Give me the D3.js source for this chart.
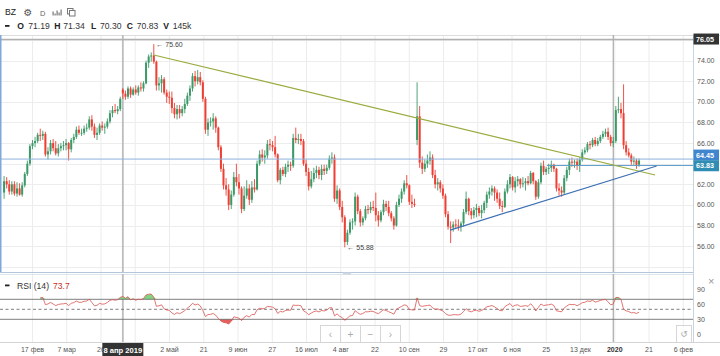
<!DOCTYPE html>
<html><head><meta charset="utf-8">
<script src="https://cdn.jsdelivr.net/npm/d3@7"></script>
<style>body{margin:0;background:#fff;}svg{display:block;font-family:"Liberation Sans",Arial,sans-serif;}</style>
</head><body><svg id="c" width="720" height="356"></svg>
<script>
// ---- data (daily candles, index 0 = 1 Feb 2019) ----
const opens = [
61.2,62.3,62.0,61.3,62.0,61.1,61.6,61.0,61.9,63.0,
64.0,65.7,66.0,66.2,66.8,66.7,66.9,64.9,65.2,66.0,
65.5,65.0,65.5,65.7,65.8,66.0,65.4,66.3,66.6,67.3,
67.0,67.0,67.4,67.5,68.3,67.6,66.8,67.0,67.7,67.5,
67.6,68.1,68.9,69.2,69.1,69.3,71.19,70.8,70.5,71.3,
70.7,71.2,70.9,71.4,71.3,71.8,73.8,74.4,74.5,73.9,
71.6,71.8,72.2,70.9,70.5,70.4,69.4,68.8,69.3,68.9,
69.3,69.8,70.6,71.3,72.5,72.0,72.4,71.9,70.3,67.3,
68.0,68.1,68.4,67.5,65.6,63.5,61.9,61.5,60.0,61.0,
62.7,62.2,61.6,59.6,60.9,61.6,60.5,61.7,61.5,64.0,
64.9,64.6,64.8,65.9,65.8,65.6,64.9,62.4,63.4,63.0,
63.7,63.9,63.8,66.5,66.3,66.4,66.2,64.0,63.2,61.8,
62.5,63.1,63.4,62.9,63.5,63.3,63.6,64.5,64.6,60.6,
61.4,59.8,58.8,56.4,57.3,58.3,58.4,60.8,59.4,58.3,
58.7,59.6,59.5,59.8,59.7,59.0,58.5,59.3,60.1,59.8,
59.2,58.7,58.0,60.0,60.6,61.3,62.1,61.9,60.3,60.1,
66.3,68.6,64.1,63.5,64.0,64.3,64.6,62.9,62.0,62.2,
61.6,60.9,59.1,57.9,57.8,58.1,58.0,57.9,58.2,59.3,
60.6,59.4,59.0,59.5,59.7,59.2,59.5,60.2,61.0,61.3,
61.6,61.2,60.6,59.9,59.8,61.3,62.0,62.7,61.7,62.3,
62.5,62.0,62.1,62.3,62.1,63.1,62.3,60.8,62.2,63.8,
63.2,63.5,63.6,63.9,63.5,61.6,61.4,61.2,62.6,63.4,
64.2,64.1,64.2,63.8,64.4,65.1,65.3,65.9,65.8,66.3,
65.9,66.2,66.6,66.9,67.1,66.6,66.0,66.2,69.2,69.3,
68.9,65.8,65.1,64.8,64.2,64.3,63.9];
const highs = [
62.8,62.7,62.4,62.3,62.3,62.2,62.1,62.2,63.2,64.3,
65.9,66.3,66.6,67.0,67.4,67.2,67.1,65.6,66.3,66.4,
66.2,65.9,66.0,66.2,66.4,66.1,66.5,66.9,67.6,67.7,
67.4,67.7,67.9,68.6,68.7,67.9,67.5,67.9,68.1,67.9,
68.4,69.2,69.6,69.8,69.6,70.5,71.34,71.1,71.5,71.5,
71.4,71.6,71.6,71.9,72.0,74.0,74.6,74.8,75.60,74.0,
72.4,72.6,72.4,71.2,71.0,71.0,69.9,69.7,69.7,69.6,
70.3,70.9,71.6,72.8,73.0,73.1,72.9,72.1,70.5,68.4,
68.5,68.9,68.6,67.6,65.8,64.0,62.6,62.0,61.4,63.2,
64.0,63.0,61.8,61.8,62.4,62.0,62.3,62.5,64.3,65.3,
65.4,65.3,66.3,66.4,66.2,66.7,65.0,63.6,63.7,64.0,
64.3,64.2,66.9,67.5,66.9,66.9,66.4,64.4,63.6,63.3,
63.6,63.8,63.7,63.9,63.9,63.9,64.8,65.1,64.9,61.9,
61.6,60.4,59.0,57.6,58.6,58.7,61.2,61.0,59.6,58.9,
59.9,60.0,60.3,60.4,61.2,59.4,59.5,60.5,60.4,60.4,
59.4,58.9,60.3,61.0,61.6,62.4,62.9,62.0,61.0,60.6,
71.9,69.6,64.7,64.4,64.9,65.2,64.9,63.4,62.6,62.4,
62.0,61.1,59.4,58.4,58.4,58.6,58.6,58.4,59.6,61.3,
60.7,59.7,59.8,60.1,59.9,60.0,60.4,61.3,61.7,61.9,
61.8,61.5,61.2,60.4,61.6,62.4,63.0,62.8,62.7,62.8,
62.6,62.7,62.6,62.8,63.3,63.2,62.4,62.5,64.1,64.3,
63.7,64.0,64.3,64.0,63.6,62.1,61.8,62.9,63.7,64.5,
64.6,64.4,64.5,64.6,65.4,65.6,66.1,66.2,66.5,66.6,
66.5,66.8,67.2,67.4,67.5,66.8,66.6,69.6,70.5,69.9,
71.7,66.2,65.5,65.0,64.7,64.5,64.5];
const lows = [
60.6,61.6,61.0,61.0,60.9,60.8,60.9,60.8,61.7,62.8,
63.8,65.4,65.6,66.0,66.2,66.3,64.7,64.4,64.9,65.2,
64.8,64.7,65.2,65.3,65.3,64.3,65.1,66.0,66.4,66.8,
66.7,66.8,67.1,67.3,67.2,66.5,66.3,66.8,67.2,66.9,
67.4,67.9,68.5,68.9,68.8,69.1,70.30,70.2,70.3,70.4,
70.6,70.7,70.6,71.0,71.0,71.7,73.3,73.9,73.7,71.1,
71.1,70.9,70.7,69.9,69.8,68.9,68.4,68.3,68.4,68.6,
68.9,69.6,70.1,71.0,71.5,71.7,71.6,70.0,66.9,66.7,
67.6,67.3,67.0,65.3,63.2,61.5,60.9,59.5,59.6,60.8,
61.8,61.0,59.2,59.4,60.6,60.0,60.2,61.2,61.4,63.8,
64.2,64.0,64.5,65.3,65.2,64.6,62.2,62.0,62.8,62.7,
63.2,63.3,63.6,66.0,65.9,65.8,63.8,62.8,61.4,61.6,
62.2,62.6,62.5,62.4,62.9,63.0,63.4,64.0,60.3,60.1,
59.5,58.3,55.88,56.1,57.1,57.6,58.0,59.1,57.9,58.0,
58.5,59.1,59.2,59.4,58.4,57.9,58.3,59.0,59.4,58.9,
58.4,57.6,57.9,59.8,60.2,61.0,61.6,60.0,59.7,59.8,
65.8,63.6,63.0,63.2,63.6,63.9,62.6,61.6,61.4,61.2,
60.6,58.8,57.6,56.3,57.4,57.7,57.5,57.4,57.9,59.1,
59.0,58.6,58.7,58.8,58.9,58.7,59.2,59.7,60.6,60.9,
60.4,60.2,59.6,59.3,59.7,61.1,61.6,61.4,61.2,61.8,
61.6,61.7,61.4,61.9,62.0,62.0,60.5,60.6,62.0,62.9,
62.9,63.0,63.2,63.2,61.3,60.9,60.8,61.0,62.3,62.9,
63.7,63.6,63.4,63.2,64.2,64.9,65.1,65.4,65.6,65.7,
65.7,66.0,66.4,66.6,66.3,65.7,65.6,66.0,68.9,68.4,
65.4,64.8,64.6,63.9,63.9,63.5,63.7];
const closes = [
62.3,62.0,61.3,62.0,61.1,61.6,61.0,61.9,63.0,64.0,
65.7,66.0,66.2,66.8,66.7,66.9,64.9,65.2,66.0,65.5,
65.0,65.5,65.7,65.8,66.0,65.4,66.3,66.6,67.3,67.0,
67.0,67.4,67.5,68.3,67.6,66.8,67.0,67.7,67.5,67.6,
68.1,68.9,69.2,69.1,69.3,70.3,70.83,70.5,71.3,70.7,
71.2,70.9,71.4,71.3,71.8,73.8,74.4,74.5,73.9,71.6,
71.8,72.2,70.9,70.5,70.4,69.4,68.8,69.3,68.9,69.3,
69.8,70.6,71.3,72.5,72.0,72.4,71.9,70.3,67.3,68.0,
68.1,68.4,67.5,65.6,63.5,61.9,61.5,60.0,61.0,62.7,
62.2,61.6,59.6,60.9,61.6,60.5,61.7,61.5,64.0,64.9,
64.6,64.8,65.9,65.8,65.6,64.9,62.4,63.4,63.0,63.7,
63.9,63.8,66.5,66.3,66.4,66.2,64.0,63.2,61.8,62.5,
63.1,63.4,62.9,63.5,63.3,63.6,64.5,64.6,60.6,61.4,
59.8,58.8,56.4,57.3,58.3,58.4,60.8,59.4,58.3,58.7,
59.6,59.5,59.8,59.7,59.0,58.5,59.3,60.1,59.8,59.2,
58.7,58.0,60.0,60.6,61.3,62.1,61.9,60.3,60.1,60.0,
68.6,64.1,63.5,64.0,64.3,64.6,62.9,62.0,62.2,61.6,
60.9,59.1,57.9,57.8,58.1,58.0,57.9,58.2,59.3,60.6,
59.4,59.0,59.5,59.7,59.2,59.5,60.2,61.0,61.3,61.6,
61.2,60.6,59.9,59.8,61.3,62.0,62.7,61.7,62.3,62.5,
62.0,62.1,62.3,62.1,63.1,62.3,60.8,62.2,63.8,63.2,
63.5,63.6,63.9,63.5,61.6,61.4,61.2,62.6,63.4,64.2,
64.1,64.2,63.8,64.4,65.1,65.3,65.9,65.8,66.3,65.9,
66.2,66.6,66.9,67.1,66.6,66.0,66.2,69.2,69.3,68.9,
65.8,65.1,64.8,64.2,64.3,63.9,64.3];

const tickLabels = ["17 фев","7 мар","26","","2 май","21","9 июн","27","16 июл","4 авг","22","10 сен","29","17 окт","6 ноя","25","13 дек","2020","21","6 фев"];
const firstTickIndex = 11, tickStep = 13.27;
const priceTicks = [56,58,60,62,64,66,68,70,72,74];
const rsiTicks = [0,30,60,90];
const rsiLevels = [70,50,30];
const trendDown = [[58,74.55],[252.2,62.9]];
const trendUp = [[172.8,57.56],[252.8,63.78]];
const hLevel = 64.45, rayLevel = 63.83, rayStart = 210.3, topLevel = 76.05;
const yearStartIndex = 236;
const hoverIndex = 46, hoverLabel = "8 апр 2019";
const header = [["O","71.19"],["H","71.34"],["L","70.30"],["C","70.83"],["V","145k"]];
const rsiHover = "73.7";

// ---- layout ----
const svg = d3.select("#c");
const plotR = 693, mainT = 35, mainB = 272, rsiB = 342;
const x = d3.scaleLinear().domain([-1.59, 266.9]).range([0, plotR]);
const y = d3.scaleLinear().domain([53.49, 76.49]).range([mainB, mainT]);
const yr = d3.scaleLinear().domain([0, 100]).range([334.3, 284.3]);
const UP = "#3c9a68", DN = "#ee3f34";

svg.append("rect").attr("width",720).attr("height",356).attr("fill","#fff");
const defs = svg.append("defs");
defs.append("clipPath").attr("id","mc").append("rect").attr("x",0).attr("y",mainT).attr("width",plotR).attr("height",mainB-mainT);
defs.append("clipPath").attr("id","rc").append("rect").attr("x",0).attr("y",mainB+2).attr("width",plotR).attr("height",rsiB-mainB-2);

// grids
const tickIdx = tickLabels.map((_,k)=>firstTickIndex + k*tickStep);
svg.append("g").selectAll("line").data(tickIdx).join("line")
  .attr("x1",d=>x(d)).attr("x2",d=>x(d)).attr("y1",mainT).attr("y2",rsiB)
  .attr("stroke","#ececec").attr("stroke-width",1);
svg.append("g").selectAll("line").data(y.ticks(12)).join("line")
  .attr("x1",0).attr("x2",plotR).attr("y1",d=>Math.round(y(d))+0.5).attr("y2",d=>Math.round(y(d))+0.5)
  .attr("stroke","#ededed");

// header
svg.append("line").attr("x1",0).attr("x2",720).attr("y1",35.5).attr("y2",35.5).attr("stroke","#dcdcdc");
svg.append("text").attr("x",5).attr("y",15).attr("font-size",8.6).attr("fill","#222").text("BZ");
svg.append("text").attr("x",23.5).attr("y",16).attr("font-size",10).attr("fill","#555").attr("font-family","DejaVu Sans").text("⚙");
svg.append("text").attr("x",40).attr("y",15.5).attr("font-size",7.5).attr("fill","#666").text("D");
[[0,4],[2,2],[4,5],[6,3],[8,6]].forEach(([dx,h])=>svg.append("rect").attr("x",52.5+dx).attr("y",15.5-h).attr("width",1.2).attr("height",h).attr("fill","#777"));
svg.append("rect").attr("x",67.5).attr("y",8.5).attr("width",5.5).attr("height",5.5).attr("fill","none").attr("stroke","#777");
svg.append("rect").attr("x",69.5).attr("y",10.5).attr("width",5.5).attr("height",5.5).attr("fill","#fff").attr("stroke","#777");
svg.append("rect").attr("x",5).attr("y",25).attr("width",4.5).attr("height",1.8).attr("fill","#222");
const hx = [[17.3,28.3],[54.3,63.3],[91,100],[126.7,136.7],[163.3,172.7]];
header.forEach(([k,v],j)=>{
  svg.append("text").attr("x",hx[j][0]).attr("y",29).attr("font-size",8.6).attr("font-weight","bold").attr("fill","#222").text(k);
  svg.append("text").attr("x",hx[j][1]).attr("y",29).attr("font-size",8.6).attr("fill","#333").text(v);
});

// main panel
const main = svg.append("g").attr("clip-path","url(#mc)");
main.append("line").attr("x1",x(yearStartIndex)).attr("x2",x(yearStartIndex)).attr("y1",mainT).attr("y2",mainB).attr("stroke","#9a9a9a");
main.append("line").attr("x1",x(hoverIndex)).attr("x2",x(hoverIndex)).attr("y1",mainT).attr("y2",mainB).attr("stroke","#bdbdbd").attr("stroke-width",1.8);
main.append("line").attr("x1",0).attr("x2",plotR).attr("y1",y(topLevel)).attr("y2",y(topLevel)).attr("stroke","#b0b0b0").attr("stroke-width",1.4);

const candles = d3.range(closes.length).map(i=>({i,o:opens[i],h:highs[i],l:lows[i],c:closes[i]}));
const cg = main.append("g");
cg.selectAll("line").data(candles).join("line")
  .attr("x1",d=>x(d.i)).attr("x2",d=>x(d.i)).attr("y1",d=>y(d.h)).attr("y2",d=>y(d.l))
  .attr("stroke",d=>d.c>=d.o?UP:DN).attr("stroke-width",0.9);
cg.selectAll("rect").data(candles).join("rect")
  .attr("x",d=>x(d.i)-1).attr("width",2)
  .attr("y",d=>y(Math.max(d.o,d.c))).attr("height",d=>Math.max(0.8,Math.abs(y(d.o)-y(d.c))))
  .attr("fill",d=>d.c>=d.o?UP:DN);

main.append("line").attr("x1",0).attr("x2",plotR).attr("y1",y(hLevel)).attr("y2",y(hLevel)).attr("stroke","#8fb3de").attr("stroke-width",1);
main.append("line").attr("x1",x(rayStart)).attr("x2",plotR).attr("y1",y(rayLevel)).attr("y2",y(rayLevel)).attr("stroke","#5d9bc9").attr("stroke-width",1);
const tl = d3.line().x(d=>x(d[0])).y(d=>y(d[1]));
main.append("path").attr("d",tl(trendDown)).attr("fill","none").attr("stroke","#9aab3e").attr("stroke-width",1.2);
main.append("path").attr("d",tl(trendUp)).attr("fill","none").attr("stroke","#3c6fb4").attr("stroke-width",1.2);

// high / low markers
const iMax = d3.maxIndex(highs), iMin = d3.minIndex(lows);
main.append("text").attr("x",x(iMax)+2.5).attr("y",y(highs[iMax])+2.5).attr("font-size",7).attr("fill","#444").text("← "+highs[iMax].toFixed(2));
main.append("text").attr("x",x(iMin)+2.5).attr("y",y(lows[iMin])+2.5).attr("font-size",7).attr("fill","#444").text("← "+lows[iMin].toFixed(2));

// panel borders
svg.append("line").attr("x1",0.75).attr("x2",0.75).attr("y1",mainT).attr("y2",mainB).attr("stroke","#7fa9d8").attr("stroke-width",1.5);
svg.append("line").attr("x1",0).attr("x2",plotR).attr("y1",mainB+0.5).attr("y2",mainB+0.5).attr("stroke","#b4c6da");
svg.append("line").attr("x1",0).attr("x2",plotR).attr("y1",mainB+2.5).attr("y2",mainB+2.5).attr("stroke","#dde4ec");
svg.append("line").attr("x1",plotR+0.5).attr("x2",plotR+0.5).attr("y1",mainT).attr("y2",rsiB).attr("stroke","#c6d3e0");
svg.append("rect").attr("x",343).attr("y",272.5).attr("width",8).attr("height",2).attr("fill","#d0d6dd");

// price axis labels (labels hidden behind the price tags are not drawn, as in the reference)
const tagLevels = [topLevel, hLevel, rayLevel];
svg.append("g").selectAll("text")
  .data(priceTicks.filter(p=>tagLevels.every(t=>Math.abs(y(p)-y(t))>8))).join("text")
  .attr("x",697).attr("y",d=>y(d)+2.5).attr("font-size",7).attr("fill","#555").text(d=>d.toFixed(2));
function tag(v,fill,dy){
  const g = svg.append("g");
  g.append("rect").attr("x",plotR+0.5).attr("y",y(v)-5.5+dy).attr("width",25.5).attr("height",11).attr("fill",fill);
  g.append("text").attr("x",plotR+3).attr("y",y(v)+2.6+dy).attr("font-size",7.2).attr("font-weight","bold").attr("fill","#fff").text(v.toFixed(2));
}
tag(topLevel,"#333",-0.5);
tag(hLevel,"#3f86cf",-4);
tag(rayLevel,"#2f8db4",0.3);

// RSI
function rsiCalc(c,n){
  const out = new Array(c.length).fill(null);
  let g=0,l=0;
  for(let i=1;i<=n;i++){const d=c[i]-c[i-1]; if(d>0) g+=d; else l-=d;}
  g/=n; l/=n; out[n] = l===0?100:100-100/(1+g/l);
  for(let i=n+1;i<c.length;i++){const d=c[i]-c[i-1]; g=(g*(n-1)+Math.max(d,0))/n; l=(l*(n-1)+Math.max(-d,0))/n; out[i]= l===0?100:100-100/(1+g/l);}
  return out;
}
const rsi = rsiCalc(closes,14).map((v,i)=>({i,v}));
const rg = svg.append("g").attr("clip-path","url(#rc)");
rg.append("line").attr("x1",x(yearStartIndex)).attr("x2",x(yearStartIndex)).attr("y1",mainB).attr("y2",rsiB).attr("stroke","#9a9a9a");
rg.append("line").attr("x1",x(hoverIndex)).attr("x2",x(hoverIndex)).attr("y1",mainB).attr("y2",rsiB).attr("stroke","#bdbdbd").attr("stroke-width",1.8);
rg.append("path").datum(rsi).attr("fill","#82d482")
  .attr("d",d3.area().defined(d=>d.v!=null).x(d=>x(d.i)).y0(yr(70)).y1(d=>yr(Math.max(d.v,70))));
rg.append("path").datum(rsi).attr("fill","#e46060")
  .attr("d",d3.area().defined(d=>d.v!=null).x(d=>x(d.i)).y0(yr(30)).y1(d=>yr(Math.min(d.v,30))));
rg.selectAll("line.lv").data(rsiLevels).join("line").attr("class","lv")
  .attr("x1",0).attr("x2",plotR).attr("y1",d=>yr(d)).attr("y2",d=>yr(d))
  .attr("stroke","#6f6f6f").attr("stroke-width",0.9).attr("stroke-dasharray",d=>d===50?"3,2.5":null);
rg.append("path").datum(rsi).attr("fill","none").attr("stroke","#d9534f").attr("stroke-width",0.8)
  .attr("d",d3.line().defined(d=>d.v!=null).x(d=>x(d.i)).y(d=>yr(d.v)));
svg.append("g").selectAll("text").data(rsiTicks).join("text")
  .attr("x",697).attr("y",d=>yr(d)+2.5).attr("font-size",7).attr("fill","#555").text(d=>d);
svg.append("rect").attr("x",5).attr("y",284.5).attr("width",4.5).attr("height",1.8).attr("fill","#222");
svg.append("text").attr("x",17).attr("y",288.5).attr("font-size",8.6).attr("fill","#333").text("RSI (14)");
svg.append("text").attr("x",53).attr("y",288.5).attr("font-size",8.6).attr("fill","#c9302c").text(rsiHover);
svg.append("text").attr("x",708).attr("y",285).attr("font-size",11).attr("fill","#999").text("×");

// nav buttons
const nav = ["‹","+","−","›"];
nav.forEach((s,k)=>{
  svg.append("rect").attr("x",320.5+k*20).attr("y",325.5).attr("width",20).attr("height",17).attr("fill","#fff").attr("fill-opacity",0.6).attr("stroke","#d6d6d6");
  svg.append("text").attr("x",330.5+k*20).attr("y",337.5).attr("text-anchor","middle").attr("font-size",10).attr("fill","#aaa").text(s);
});
svg.append("rect").attr("x",676.5).attr("y",325.5).attr("width",15).attr("height",17).attr("fill","#fff").attr("fill-opacity",0.6).attr("stroke","#d6d6d6");
svg.append("text").attr("x",684).attr("y",337).attr("text-anchor","middle").attr("font-size",9).attr("fill","#aaa").attr("font-family","DejaVu Sans").text("↺");

// x axis
svg.append("line").attr("x1",0).attr("x2",720).attr("y1",rsiB+0.5).attr("y2",rsiB+0.5).attr("stroke","#d4d4d4");
svg.append("g").selectAll("text").data(tickLabels.map((t,k)=>({t,i:tickIdx[k]})).filter(d=>d.t)).join("text")
  .attr("x",d=>x(d.i)).attr("y",352).attr("text-anchor","middle").attr("font-size",7)
  .attr("font-weight",d=>d.t==="2020"?"bold":"normal").attr("fill",d=>d.t==="2020"?"#333":"#555").text(d=>d.t);
const hb = svg.append("g");
hb.append("rect").attr("x",x(hoverIndex)-20.5).attr("y",343).attr("width",41).attr("height",13).attr("fill","#333");
hb.append("text").attr("x",x(hoverIndex)).attr("y",352.5).attr("text-anchor","middle").attr("font-size",7.6).attr("font-weight","bold").attr("fill","#fff").text(hoverLabel);
</script></body></html>
